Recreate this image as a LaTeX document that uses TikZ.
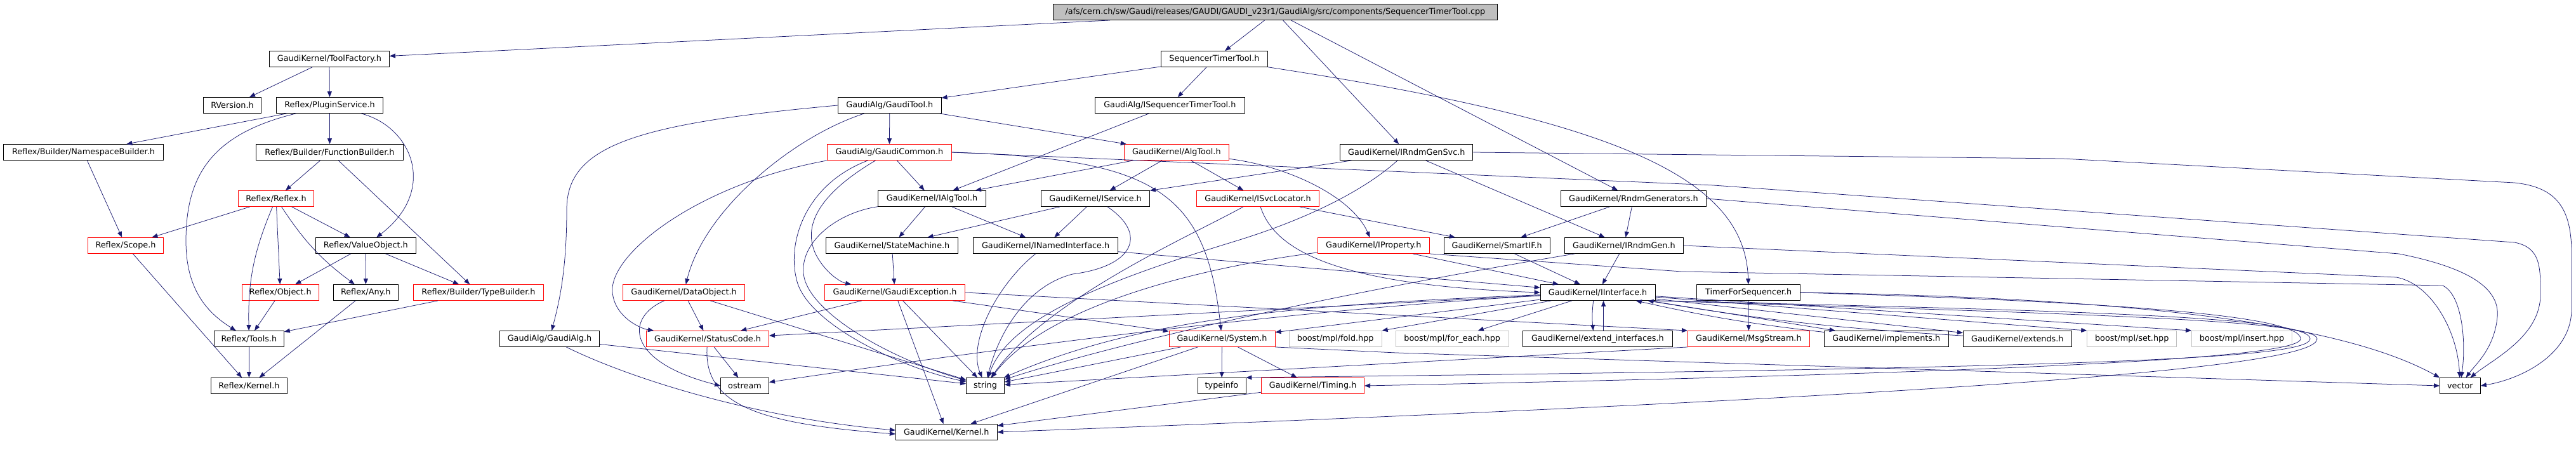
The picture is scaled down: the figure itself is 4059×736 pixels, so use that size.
\documentclass[tikz,border=0pt]{standalone}
\usepackage{fontspec}
\setmainfont{DejaVu Sans}
\usetikzlibrary{arrows.meta}
\definecolor{edgeblue}{HTML}{191970}
\definecolor{boxgray}{HTML}{BFBFBF}

\begin{document}
\begin{tikzpicture}[x=1pt,y=-1pt,
  file/.style={draw=black, line width=0.9pt, rectangle, minimum height=25pt, inner sep=0pt, font=\fontsize{12.8}{14}\selectfont},
  trunc/.style={file, draw=red},
  ext/.style={file, draw=boxgray},
  dep/.style={draw=edgeblue, line width=0.75pt, -{Triangle[length=9pt,width=7pt]}}]
\fill[white] (0,0) rectangle (4059,736);
\useasboundingbox (0,0) rectangle (4059,736);

\node[file, fill=boxgray, minimum width=700pt] (root) at (2009.4,19) {/afs/cern.ch/sw/Gaudi/releases/GAUDI/GAUDI\_v23r1/GaudiAlg/src/components/SequencerTimerTool.cpp};
\node[file, minimum width=189pt] (tf) at (519,93) {GaudiKernel/ToolFactory.h};
\node[file, minimum width=91pt] (rver) at (366,166) {RVersion.h};
\node[file, minimum width=168pt] (plug) at (519.5,166) {Reflex/PluginService.h};
\node[file, minimum width=252pt] (nsb) at (131.5,240) {Reflex/Builder/NamespaceBuilder.h};
\node[file, minimum width=232pt] (fnb) at (519.5,240) {Reflex/Builder/FunctionBuilder.h};
\node[trunc, minimum width=119pt] (reflex) at (435,313) {Reflex/Reflex.h};
\node[trunc, minimum width=119pt] (scope) at (198,387) {Reflex/Scope.h};
\node[file, minimum width=158pt] (valobj) at (576.4,387) {Reflex/ValueObject.h};
\node[trunc, minimum width=121pt] (object) at (441.8,461) {Reflex/Object.h};
\node[file, minimum width=102pt] (any) at (576.3,461) {Reflex/Any.h};
\node[trunc, minimum width=205pt] (typeb) at (754,461) {Reflex/Builder/TypeBuilder.h};
\node[file, minimum width=110pt] (tools) at (392.4,534) {Reflex/Tools.h};
\node[file, minimum width=120pt] (rkernel) at (392.4,608) {Reflex/Kernel.h};
\node[file, minimum width=157pt] (gaudialg) at (866,534) {GaudiAlg/GaudiAlg.h};
\node[trunc, minimum width=192pt] (dataobj) at (1077.5,461) {GaudiKernel/DataObject.h};
\node[trunc, minimum width=193pt] (statcode) at (1115,534) {GaudiKernel/StatusCode.h};
\node[file, minimum width=76pt] (ostream) at (1173.5,608) {ostream};
\node[file, minimum width=168pt] (seqtt) at (1913.4,93) {SequencerTimerTool.h};
\node[file, minimum width=162.5pt] (gtool) at (1401.8,166) {GaudiAlg/GaudiTool.h};
\node[file, minimum width=236pt] (iseqtt) at (1843.3,166) {GaudiAlg/ISequencerTimerTool.h};
\node[trunc, minimum width=195.5pt] (gcommon) at (1401.4,240) {GaudiAlg/GaudiCommon.h};
\node[trunc, minimum width=165pt] (algtool) at (1853.8,240) {GaudiKernel/AlgTool.h};
\node[file, minimum width=170pt] (ialgtool) at (1468.6,313) {GaudiKernel/IAlgTool.h};
\node[file, minimum width=171pt] (iservice) at (1726.1,313) {GaudiKernel/IService.h};
\node[trunc, minimum width=193pt] (isvcloc) at (1982,313) {GaudiKernel/ISvcLocator.h};
\node[file, minimum width=208pt] (statem) at (1405.4,387) {GaudiKernel/StateMachine.h};
\node[file, minimum width=228pt] (inamed) at (1647.6,387) {GaudiKernel/INamedInterface.h};
\node[trunc, minimum width=221pt] (gexcept) at (1410,461) {GaudiKernel/GaudiException.h};
\node[trunc, minimum width=167pt] (system) at (1925.5,534) {GaudiKernel/System.h};
\node[file, minimum width=60pt] (string) at (1552.5,608) {string};
\node[file, minimum width=76pt] (typeinfo) at (1925,608) {typeinfo};
\node[trunc, minimum width=162pt] (timing) at (2068.6,608) {GaudiKernel/Timing.h};
\node[file, minimum width=160pt] (gkernel) at (1491.3,681) {GaudiKernel/Kernel.h};
\node[file, minimum width=209pt] (irndmsvc) at (2216.3,240) {GaudiKernel/IRndmGenSvc.h};
\node[file, minimum width=229pt] (rndmgens) at (2573.9,313) {GaudiKernel/RndmGenerators.h};
\node[trunc, minimum width=176pt] (iprop) at (2164.3,387) {GaudiKernel/IProperty.h};
\node[file, minimum width=167pt] (smartif) at (2358.7,387) {GaudiKernel/SmartIF.h};
\node[file, minimum width=187pt] (irndmgen) at (2558.9,387) {GaudiKernel/IRndmGen.h};
\node[file, minimum width=181pt] (iinterface) at (2517.6,461) {GaudiKernel/IInterface.h};
\node[ext, minimum width=146pt] (fold) at (2104.2,534) {boost/mpl/fold.hpp};
\node[ext, minimum width=178pt] (foreach) at (2288.2,534) {boost/mpl/for\_each.hpp};
\node[file, minimum width=236pt] (extint) at (2517.4,534) {GaudiKernel/extend\_interfaces.h};
\node[file, minimum width=163pt] (timerseq) at (2755.2,461) {TimerForSequencer.h};
\node[trunc, minimum width=192pt] (msgstream) at (2755.4,534) {GaudiKernel/MsgStream.h};
\node[file, minimum width=196pt] (implements) at (2972.3,534) {GaudiKernel/implements.h};
\node[file, minimum width=171pt] (extends) at (3178.8,534) {GaudiKernel/extends.h};
\node[ext, minimum width=141pt] (mplset) at (3359.2,534) {boost/mpl/set.hpp};
\node[ext, minimum width=158pt] (mplinsert) at (3532.5,534) {boost/mpl/insert.hpp};
\node[file, minimum width=64pt] (vector) at (3876.4,608) {vector};

\draw[dep] (root) -- (tf);
\draw[dep] (root) -- (seqtt);
\draw[dep] (root) -- (irndmsvc);
\draw[dep] (root) -- (rndmgens);
\draw[dep] (tf) -- (rver);
\draw[dep] (tf) -- (plug);
\draw[dep] (plug) -- (nsb);
\draw[dep] (plug) -- (fnb);
\draw[dep] (plug) .. controls (330,212) and (293,280) .. (293,380) .. controls (293,460) and (330,495) .. (tools);
\draw[dep] (plug) .. controls (650,200) and (690,300) .. (valobj);
\draw[dep] (nsb) -- (scope);
\draw[dep] (fnb) -- (reflex);
\draw[dep] (fnb) -- (typeb);
\draw[dep] (reflex) -- (scope);
\draw[dep] (reflex) to[bend right=12] (tools);
\draw[dep] (reflex) -- (object);
\draw[dep] (reflex) to[bend right=10] (any);
\draw[dep] (reflex) -- (valobj);
\draw[dep] (scope) -- (rkernel);
\draw[dep] (valobj) -- (object);
\draw[dep] (valobj) -- (any);
\draw[dep] (valobj) -- (typeb);
\draw[dep] (object) -- (tools);
\draw[dep] (any) -- (rkernel);
\draw[dep] (typeb) -- (tools);
\draw[dep] (tools) -- (rkernel);

\draw[dep] (seqtt) -- (gtool);
\draw[dep] (seqtt) -- (iseqtt);
\draw[dep] (seqtt) .. controls (2550,190) and (2750,280) .. (timerseq);
\draw[dep] (gtool.west) .. controls (1000,195) and (893,230) .. (893,330) .. controls (893,430) and (880,480) .. (gaudialg);
\draw[dep] (gtool) .. controls (1250,215) and (1110,330) .. (dataobj);
\draw[dep] (gtool) -- (gcommon);
\draw[dep] (gtool) -- (algtool);
\draw[dep] (iseqtt) -- (ialgtool);
\draw[dep] (gcommon) -- (ialgtool);
\draw[dep] (gcommon.south west) .. controls (1100,290) and (960,400) .. (965,460) .. controls (968,500) and (1010,518) .. (statcode);
\draw[dep] (gcommon) .. controls (1300,300) and (1262,350) .. (1285,400) .. controls (1300,430) and (1325,445) .. (gexcept);
\draw[dep] (gcommon) .. controls (1270,290) and (1240,380) .. (1255,440) .. controls (1270,510) and (1420,580) .. (string);
\draw[dep] (gcommon.east) .. controls (1820,250) and (1900,300) .. (system);
\draw[dep] (gcommon.east) -- (2700,292) -- (3962,382) .. controls (4003,390) and (4003,420) .. (4003,464) .. controls (4003,530) and (3930,565) .. (vector);
\draw[dep] (algtool) -- (ialgtool);
\draw[dep] (algtool) -- (iservice);
\draw[dep] (algtool) -- (isvcloc);
\draw[dep] (algtool) .. controls (2030,262) and (2130,310) .. (iprop);
\draw[dep] (ialgtool) -- (statem);
\draw[dep] (ialgtool) -- (inamed);
\draw[dep] (ialgtool) .. controls (1320,335) and (1262,380) .. (1266,430) .. controls (1270,490) and (1400,565) .. (string);
\draw[dep] (iservice) -- (statem);
\draw[dep] (iservice) -- (inamed);
\draw[dep] (iservice) .. controls (1810,370) and (1785,420) .. (1690,432) .. controls (1620,450) and (1575,520) .. (string);
\draw[dep] (isvcloc) .. controls (2010,400) and (2120,450) .. (iinterface.west);
\draw[dep] (isvcloc) -- (smartif);
\draw[dep] (isvcloc) .. controls (1880,370) and (1650,470) .. (string);
\draw[dep] (statem) -- (gexcept);
\draw[dep] (inamed) .. controls (1570,450) and (1525,540) .. (string);
\draw[dep] (inamed) -- (iinterface);
\draw[dep] (gexcept) -- (statcode);
\draw[dep] (gexcept) -- (system);
\draw[dep] (gexcept) -- (string);
\draw[dep] (gexcept) -- (gkernel);
\draw[dep] (gexcept.east) -- (msgstream.north west);
\draw[dep] (dataobj) -- (statcode);
\draw[dep] (dataobj) .. controls (985,500) and (985,570) .. (ostream.west);
\draw[dep] (dataobj) -- (string);
\draw[dep] (statcode) -- (ostream);
\draw[dep] (statcode) .. controls (1108,640) and (1200,668) .. ([yshift=-3pt]gkernel.west);
\draw[dep] (gaudialg) -- (string);
\draw[dep] (gaudialg) .. controls (1000,600) and (1200,660) .. ([yshift=3pt]gkernel.west);

\draw[dep] (irndmsvc) -- (iservice);
\draw[dep] (irndmsvc) -- (irndmgen);
\draw[dep] (irndmsvc) .. controls (2150,300) and (2060,345) .. (1950,379) .. controls (1750,440) and (1590,500) .. (string);
\draw[dep] (irndmsvc.east) -- (3250,250) -- (3962,288) .. controls (4030,295) and (4052,330) .. (4052,400) -- (4052,487) .. controls (4052,560) and (3970,598) .. (vector.east);
\draw[dep] (rndmgens) -- (smartif);
\draw[dep] (rndmgens) -- (irndmgen);
\draw[dep] (rndmgens.east) -- (3780,400) .. controls (3880,420) and (3940,450) .. (3935,500) .. controls (3930,550) and (3900,575) .. (vector);
\draw[dep] (iprop) -- (iinterface);
\draw[dep] (iprop) .. controls (1900,420) and (1650,480) .. (string);
\draw[dep] (iprop.south east) -- (2650,428) -- (3849,450) .. controls (3880,465) and (3886,540) .. (vector);
\draw[dep] (smartif) -- (iinterface);
\draw[dep] (irndmgen) -- (iinterface);
\draw[dep] (irndmgen) .. controls (2000,480) and (1700,560) .. (string);
\draw[dep] (irndmgen.east) -- (3776,437) .. controls (3830,447) and (3872,520) .. (vector);

\draw[dep] (iinterface) -- (statcode);
\draw[dep] (iinterface) -- (system);
\draw[dep] (iinterface) -- (fold);
\draw[dep] (iinterface) -- (foreach);
\draw[dep] (iinterface) .. controls (2000,490) and (1500,560) .. (ostream);
\draw[dep] (iinterface) .. controls (2050,480) and (1800,500) .. (string);
\draw[dep] ([xshift=-7pt]iinterface.south) to[bend right=6] ([xshift=-7pt]extint.north);
\draw[dep] ([xshift=9pt]extint.north) -- ([xshift=9pt]iinterface.south);
\draw[dep] (iinterface) -- (implements);
\draw[dep] (implements) to[bend left=3] (iinterface);
\draw[dep] (iinterface) -- (extends);
\draw[dep] (extends) to[bend left=3] (iinterface);
\draw[dep] (iinterface) -- (mplset.north west);
\draw[dep] (iinterface) -- (mplinsert.north west);
\draw[dep] (iinterface.south east) .. controls (3300,490) and (3640,500) .. (3640,534) .. controls (3640,565) and (3300,580) .. (typeinfo.north east);
\draw[dep] (iinterface.south east) .. controls (3300,495) and (3651,505) .. (3651,534) .. controls (3651,575) and (3200,620) .. (gkernel.east);

\draw[dep] (timerseq) -- (msgstream);
\draw[dep] (timerseq.east) .. controls (3300,475) and (3625,495) .. (3625,534) .. controls (3625,560) and (3300,585) .. (timing.east);
\draw[dep] (timerseq.east) .. controls (3400,470) and (3700,515) .. (vector.north west);
\draw[dep] (msgstream.south west) -- (string);
\draw[dep] (system) -- (typeinfo);
\draw[dep] (system) -- (timing);
\draw[dep] (system) -- (string);
\draw[dep] (system) -- (gkernel);
\draw[dep] (system.south east) -- (2200,556) -- (vector.west);
\draw[dep] (timing) -- (gkernel);
\end{tikzpicture}
\end{document}
